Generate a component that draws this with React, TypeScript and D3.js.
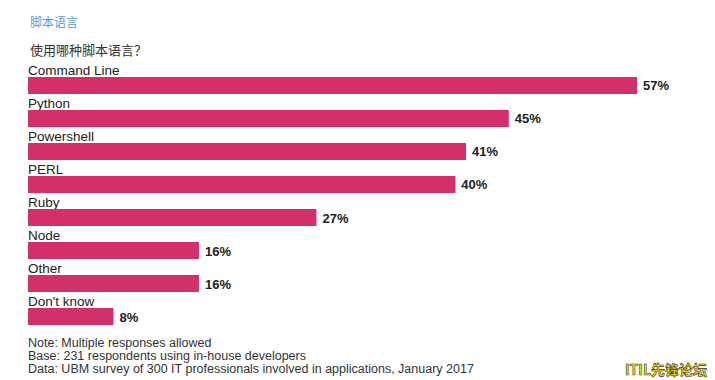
import React from "react";
import * as d3 from "d3";

const categories = ["Command Line", "Python", "Powershell", "PERL", "Ruby", "Node", "Other", "Don't know"];
const values = [57, 45, 41, 40, 27, 16, 16, 8];
const valueLabels = ["57%", "45%", "41%", "40%", "27%", "16%", "16%", "8%"];
const title = "脚本语言";
const subtitle = "使用哪种脚本语言？";
const notes = [
  "Note: Multiple responses allowed",
  "Base: 231 respondents using in-house developers",
  "Data: UBM survey of 300 IT professionals involved in applications, January 2017",
];

export default function App() {
  const W = 715, H = 380;
  const x = d3.scaleLinear().domain([0, 57]).range([28, 637]);
  const y = d3.scaleBand<string>().domain(categories).range([77, 325]).paddingInner(0.485).paddingOuter(0);
  const font = "'Liberation Sans', Arial, sans-serif";
  const cjk = "'Noto Sans CJK SC', sans-serif";
  return (
    <svg width={W} height={H} style={{ position: "absolute", left: 0, top: 0 }}>
      <rect width={W} height={H} fill="#fff" />
      <text x={30} y={27} fontFamily={cjk} fontSize={12} fill="#5b9bd5">{title}</text>
      <text x={30} y={55} fontFamily={cjk} fontSize={13} fill="#333">{subtitle}</text>
      {categories.map((c, i) => {
        const by = y(c)!;
        const bh = y.bandwidth();
        return (
          <g key={c}>
            <text x={28} y={by - 2.5} fontFamily={font} fontSize={13.5} fill="#222">{c}</text>
            <rect x={x(0)} y={by} width={x(values[i]) - x(0)} height={bh} fill="#d2306b" />
            <text x={x(values[i]) + 6} y={by + bh / 2 + 5} fontFamily={font} fontSize={13} fontWeight="bold" fill="#222">{valueLabels[i]}</text>
          </g>
        );
      })}
      {notes.map((n, i) => (
        <text key={i} x={28} y={347 + i * 13} fontFamily={font} fontSize={12.5} fill="#333">{n}</text>
      ))}
      <text x={625} y={375} fontFamily={cjk} fontSize={14} fontWeight="bold" fill="#ffe600" stroke="#333" strokeWidth={0.6}>ITIL先锋论坛</text>
    </svg>
  );
}
